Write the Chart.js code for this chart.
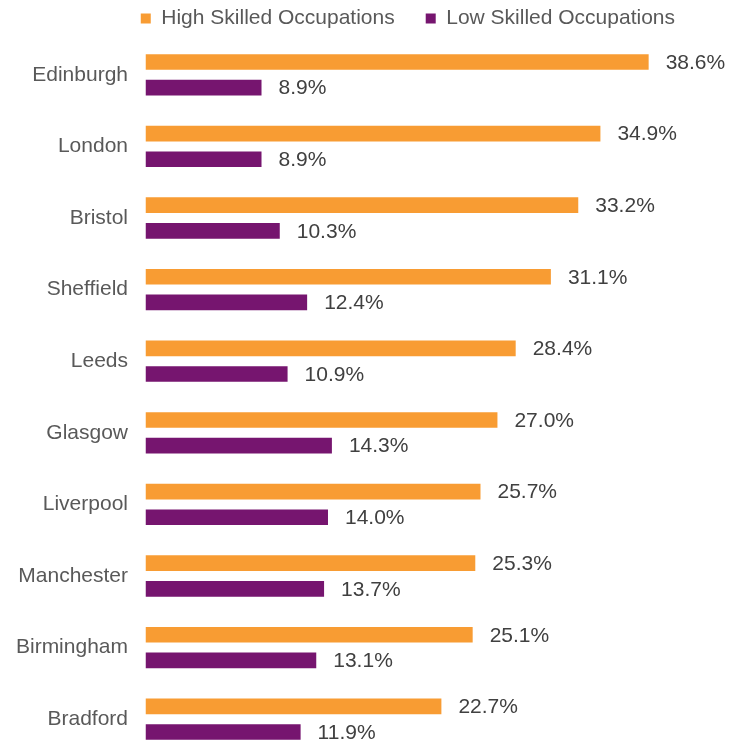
<!DOCTYPE html>
<html>
<head>
<meta charset="utf-8">
<script src="https://cdn.jsdelivr.net/npm/chart.js@4.4.1/dist/chart.umd.min.js"></script>
<style>
  html, body { margin: 0; padding: 0; background: #fff; overflow: hidden; }
  #wrap { position: relative; width: 733px; height: 742px; overflow: hidden; }
  /* o gráfico original corta a última barra, por isso o canvas é mais alto que a janela */
  #skillsChart { position: absolute; left: 0; top: -23px; }
</style>
</head>
<body>
<div id="wrap">
  <canvas id="skillsChart" width="733" height="778"></canvas>
</div>
<script>
// Dados do gráfico
const cities = ['Edinburgh', 'London', 'Bristol', 'Sheffield', 'Leeds', 'Glasgow', 'Liverpool', 'Manchester', 'Birmingham', 'Bradford'];
const highSkilled = [38.6, 34.9, 33.2, 31.1, 28.4, 27.0, 25.7, 25.3, 25.1, 22.7];
const lowSkilled = [8.9, 8.9, 10.3, 12.4, 10.9, 14.3, 14.0, 13.7, 13.1, 11.9];
const seriesNames = ['High Skilled Occupations', 'Low Skilled Occupations'];

const fontFamily = '"Liberation Sans", Arial, sans-serif';

// Plugin simples para escrever os valores no fim das barras
const valueLabels = {
  id: 'valueLabels',
  afterDatasetsDraw(chart) {
    const ctx = chart.ctx;
    ctx.save();
    ctx.font = '21px ' + fontFamily;
    ctx.fillStyle = '#404040';
    ctx.textAlign = 'left';
    ctx.textBaseline = 'middle';
    chart.data.datasets.forEach((ds, i) => {
      const meta = chart.getDatasetMeta(i);
      meta.data.forEach((bar, j) => {
        ctx.fillText(ds.data[j].toFixed(1) + '%', bar.x + 17, bar.y + 1);
      });
    });
    ctx.restore();
  }
};

const ctx = document.getElementById('skillsChart').getContext('2d');
new Chart(ctx, {
  type: 'bar',
  data: {
    labels: cities,
    datasets: [
      {
        label: seriesNames[0],
        data: highSkilled,
        backgroundColor: '#F89C33',
        categoryPercentage: 0.717,
        barPercentage: 0.61
      },
      {
        label: seriesNames[1],
        data: lowSkilled,
        backgroundColor: '#76156F',
        categoryPercentage: 0.717,
        barPercentage: 0.61
      }
    ]
  },
  options: {
    indexAxis: 'y',
    responsive: false,
    animation: false,
    layout: { padding: { left: 0, right: 27, top: 0, bottom: 0 } },
    plugins: {
      tooltip: { enabled: false },
      legend: {
        position: 'top',
        align: 'end',
        labels: {
          boxWidth: 10,
          boxHeight: 10,
          padding: 31,
          color: '#595959',
          font: { family: fontFamily, size: 21 }
        }
      }
    },
    scales: {
      x: { display: false, min: 0, max: 43 },
      y: {
        grid: { display: false, drawTicks: false },
        border: { display: false },
        ticks: {
          padding: 17.5,
          color: '#595959',
          font: { family: fontFamily, size: 21 }
        },
        afterFit(scale) {
          scale.width = 145.5;
          // sem margem extra em cima/baixo por causa dos rótulos
          scale.paddingTop = 0;
          scale.paddingBottom = 0;
        }
      }
    }
  },
  plugins: [valueLabels]
});
</script>
</body>
</html>
